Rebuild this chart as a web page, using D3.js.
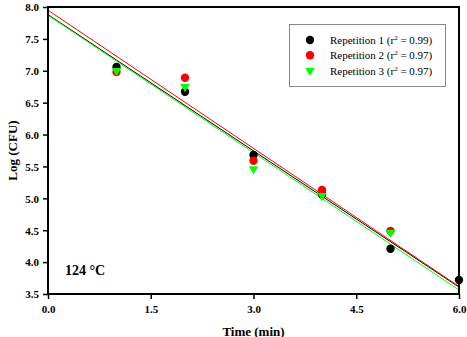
<!DOCTYPE html>
<html><head><meta charset="utf-8">
<script src="https://cdn.jsdelivr.net/npm/d3@7"></script>
<style>body{margin:0;background:#fff}svg{display:block}</style>
</head><body>
<svg id="c" width="467" height="337"></svg>
<script>
const xTicks = [0, 1.5, 3.0, 4.5, 6.0];
const yTicks = [3.5, 4.0, 4.5, 5.0, 5.5, 6.0, 6.5, 7.0, 7.5, 8.0];
const rep1X = [1, 2, 3, 4, 5, 6];
const rep1Y = [7.06, 6.67, 5.68, 5.06, 4.21, 3.72];
const rep2X = [1, 2, 3, 4, 5];
const rep2Y = [6.98, 6.89, 5.59, 5.13, 4.49];
const rep3X = [1, 2, 3, 4, 5];
const rep3Y = [7.0, 6.75, 5.46, 5.04, 4.46];
const fitIntercept = [7.88, 7.95, 7.87];
const fitSlope = [-0.712, -0.722, -0.718];
const seriesNames = ["Repetition 1", "Repetition 2", "Repetition 3"];
const seriesR2 = ["0.99", "0.97", "0.97"];
const colors = ["#000000", "#ff0000", "#00ff00"];
const lineColors = ["#000000", "#ff0000", "#00ff00"];

const FONT = '"Liberation Serif"';
const svg = d3.select("#c");
const L = 48, R = 459, T = 7, B = 294;
const x = d3.scaleLinear().domain([0, 6]).range([L, R]);
const y = d3.scaleLinear().domain([3.5, 8]).range([B, T]);

// fit lines
const lineOrder = [0, 2, 1];
lineOrder.forEach(i => {
  svg.append("line")
    .attr("x1", x(0)).attr("y1", y(fitIntercept[i]))
    .attr("x2", x(6)).attr("y2", y(fitIntercept[i] + fitSlope[i] * 6))
    .attr("stroke", lineColors[i]).attr("stroke-width", 1);
});

// points
const tri = d3.symbol().type(d3.symbolTriangle).size(38);
function drawPoints(xs, ys, i) {
  const pts = xs.map((v, k) => [v, ys[k]]);
  if (i < 2) {
    svg.append("g").selectAll("circle").data(pts).join("circle")
      .attr("cx", d => x(d[0])).attr("cy", d => y(d[1])).attr("r", 4.2)
      .attr("fill", colors[i]);
  } else {
    svg.append("g").selectAll("path").data(pts).join("path")
      .attr("d", tri)
      .attr("transform", d => `translate(${x(d[0])},${y(d[1])}) rotate(180)`)
      .attr("fill", colors[i]);
  }
}
drawPoints(rep1X, rep1Y, 0);
drawPoints(rep2X, rep2Y, 1);
drawPoints(rep3X, rep3Y, 2);

// axes
const xAxis = svg.append("g").attr("transform", `translate(0,${B})`)
  .call(d3.axisBottom(x).tickValues(xTicks).tickFormat(d3.format(".1f")).tickSize(5).tickPadding(6));
const yAxis = svg.append("g").attr("transform", `translate(${L},0)`)
  .call(d3.axisLeft(y).tickValues(yTicks).tickFormat(d3.format(".1f")).tickSize(5).tickPadding(4));
[xAxis, yAxis].forEach(a => {
  a.select(".domain").remove();
  a.selectAll(".tick line").attr("stroke", "#000").attr("stroke-width", 1.5);
  a.selectAll(".tick text").style("font-family", FONT).attr("font-weight", "bold")
    .attr("font-size", 11).attr("fill", "#000");
});
yAxis.selectAll(".tick text").attr("dy", "0.35em");

// frame
svg.append("rect").attr("x", L).attr("y", T).attr("width", R - L).attr("height", B - T)
  .attr("fill", "none").attr("stroke", "#000").attr("stroke-width", 2);

// axis titles
svg.append("text").attr("x", (L + R) / 2).attr("y", 336)
  .attr("text-anchor", "middle").style("font-family", FONT).attr("font-weight", "bold")
  .attr("font-size", 13).text("Time (min)");
svg.append("text").attr("transform", `translate(17,${(T + B) / 2}) rotate(-90)`)
  .attr("text-anchor", "middle").style("font-family", FONT).attr("font-weight", "bold")
  .attr("font-size", 13).text("Log (CFU)");

// annotation
svg.append("text").attr("x", 65).attr("y", 275).style("font-family", FONT)
  .attr("font-weight", "bold").attr("font-size", 14).text("124 °C");

// legend
const lg = svg.append("g");
lg.append("rect").attr("x", 289.5).attr("y", 24.5).attr("width", 156).attr("height", 62)
  .attr("fill", "#fff").attr("stroke", "#888").attr("stroke-width", 1);
const rowsY = [40, 55.3, 70.6];
seriesNames.forEach((n, i) => {
  if (i < 2) {
    lg.append("circle").attr("cx", 310).attr("cy", rowsY[i]).attr("r", 4.2).attr("fill", colors[i]);
  } else {
    lg.append("path").attr("d", tri).attr("transform", `translate(310,${rowsY[i]}) rotate(180)`)
      .attr("fill", colors[i]);
  }
  const t = lg.append("text").attr("x", 330).attr("y", rowsY[i] + 4).style("font-family", FONT)
    .attr("font-size", 11).attr("fill", "#000");
  t.append("tspan").text(n + " (r");
  t.append("tspan").attr("dy", -4).attr("font-size", 7).text("2");
  t.append("tspan").attr("dy", 4).text(" = " + seriesR2[i] + ")");
});
</script>
</body></html>
